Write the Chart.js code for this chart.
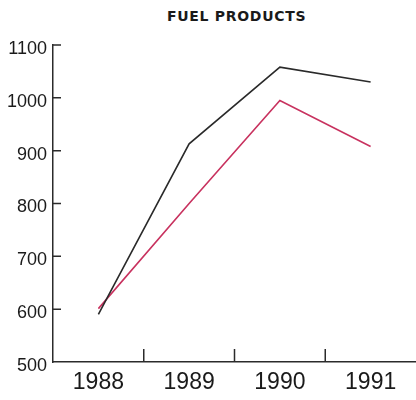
<!DOCTYPE html>
<html>
<head>
<meta charset="utf-8">
<script src="https://cdn.jsdelivr.net/npm/chart.js@4.4.1/dist/chart.umd.min.js"></script>
<style>
    html, body { margin: 0; padding: 0; background: #fff; }
    #wrap { position: relative; width: 416px; height: 400px; }
    #title {
        position: absolute; left: 167px; top: 8px;
        font: bold 14px "DejaVu Sans", sans-serif;
        letter-spacing: 0.7px; color: #1a1a1a; white-space: nowrap;
    }
    canvas { position: absolute; left: 0; top: 0; }
</style>
</head>
<body>
<div id="wrap">
    <div id="title">FUEL PRODUCTS</div>
    <canvas id="chart" width="416" height="400"></canvas>
</div>
<script>
// Dados
const years = ['1988', '1989', '1990', '1991'];
const seriesBlack = [590, 913, 1058, 1030];
const seriesRed = [601, 800, 995, 908];
const yTicks = [500, 600, 700, 800, 900, 1000, 1100];

const AXIS_COLOR = '#2b2b2b';

// Desenha as marcas de escala para dentro da área do gráfico
const innerTicks = {
    id: 'innerTicks',
    afterDraw(chart) {
        const ctx = chart.ctx;
        const area = chart.chartArea;
        const x = chart.scales.x;
        const y = chart.scales.y;
        ctx.save();
        ctx.strokeStyle = AXIS_COLOR;
        ctx.lineWidth = 1.5;
        ctx.beginPath();
        yTicks.forEach(v => {
            if (v === yTicks[0]) return;
            const py = y.getPixelForValue(v);
            ctx.moveTo(area.left, py);
            ctx.lineTo(area.left + 8, py);
        });
        for (let i = 1; i < years.length; i++) {
            const px = (x.getPixelForValue(i - 1) + x.getPixelForValue(i)) / 2;
            ctx.moveTo(px, area.bottom);
            ctx.lineTo(px, area.bottom - 13);
        }
        ctx.stroke();
        ctx.restore();
    }
};

const chart = new Chart(document.getElementById('chart'), {
    type: 'line',
    data: {
        labels: years,
        datasets: [
            { data: seriesBlack, borderColor: '#2a2a2a', borderWidth: 1.6 },
            { data: seriesRed, borderColor: '#c8325f', borderWidth: 1.6 }
        ]
    },
    options: {
        responsive: false,
        animation: false,
        layout: { padding: { top: 45, right: 0, left: 0, bottom: 0 } },
        elements: { point: { radius: 0 }, line: { tension: 0 } },
        plugins: { legend: { display: false }, tooltip: { enabled: false }, title: { display: false } },
        scales: {
            x: {
                offset: true,
                grid: { display: true, drawOnChartArea: false, drawTicks: false },
                border: { color: AXIS_COLOR, width: 1.5 },
                ticks: { color: '#1a1a1a', padding: 7, font: { family: 'Liberation Sans', size: 23 } },
                afterFit: scale => { scale.height = 38; }
            },
            y: {
                min: 500,
                max: 1100,
                afterBuildTicks: scale => { scale.ticks = yTicks.map(v => ({ value: v })); },
                grid: { display: true, drawOnChartArea: false, drawTicks: false },
                border: { color: AXIS_COLOR, width: 1.5 },
                ticks: {
                    color: '#1a1a1a', padding: 6, labelOffset: 4,
                    font: { family: 'Liberation Sans', size: 18 },
                    callback: v => String(v)
                },
                afterFit: scale => { scale.width = 53; }
            }
        }
    },
    plugins: [innerTicks]
});
</script>
</body>
</html>
